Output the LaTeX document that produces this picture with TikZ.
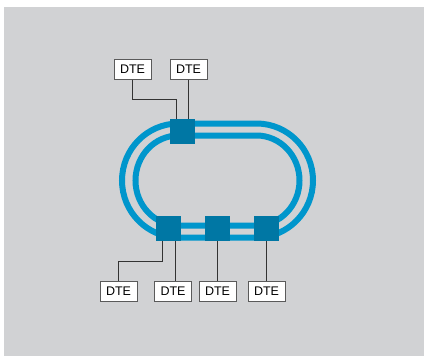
\documentclass[tikz,border=0pt]{standalone}
\usepackage{fontspec}
\setmainfont{Liberation Sans}
\definecolor{bg}{HTML}{D1D2D4}
\definecolor{ring}{HTML}{0096CC}
\definecolor{hub}{HTML}{0077A4}
\definecolor{wire}{HTML}{333333}
\definecolor{boxline}{HTML}{5A5A5A}
\tikzset{
  hubbox/.style={fill=hub, minimum size=25pt, inner sep=0pt, draw=none},
  dte/.style={draw=boxline, line width=0.9pt, fill=white, minimum width=37pt, minimum height=20pt, inner sep=0pt, font=\fontsize{12.5pt}{14pt}\selectfont},
  wireline/.style={draw=wire, line width=1pt},
  ringline/.style={draw=ring, line width=6pt}
}
\begin{document}
\begin{tikzpicture}[x=1pt,y=-1pt]
\useasboundingbox (0,0) rectangle (424,356);
\fill[bg] (4,7) rectangle (424,356);
% ring
\draw[ringline] (256.5,123.5) arc[start angle=-90, end angle=90, x radius=56.5, y radius=57] -- (178.5,237.5) arc[start angle=90, end angle=270, x radius=56.5, y radius=57] -- cycle;
\draw[ringline] (256.5,135.5) arc[start angle=-90, end angle=90, x radius=43, y radius=45] -- (178.5,225.5) arc[start angle=90, end angle=270, x radius=43, y radius=45] -- cycle;
% hubs
\node[hubbox] (t) at (182.5,131.3) {};
\node[hubbox] (b1) at (168.5,228.3) {};
\node[hubbox] (b2) at (217.5,228.3) {};
\node[hubbox] (b3) at (266.5,228.3) {};
% DTE boxes
\node[dte] (d1) at (132.5,69.2) {DTE};
\node[dte] (d2) at (188.5,69.2) {DTE};
\node[dte] (e1) at (118.5,291.3) {DTE};
\node[dte] (e2) at (173,291.3) {DTE};
\node[dte] (e3) at (217.5,291.3) {DTE};
\node[dte] (e4) at (266.5,291.3) {DTE};
% wires
\coordinate (k1) at (176.5,99);
\coordinate (k2) at (162.3,261);
\coordinate (k3) at (175,261);
\draw[wireline] (d1.south) |- (k1) -- (k1 |- t.north);
\draw[wireline] (d2.south) -- (d2.south |- t.north);
\draw[wireline] (k2 |- b1.south) -- (k2) -| (e1.north);
\draw[wireline] (k3 |- b1.south) -- (k3 |- e2.north);
\draw[wireline] (b2.south) -- (e3.north);
\draw[wireline] (b3.south) -- (e4.north);
\end{tikzpicture}
\end{document}
